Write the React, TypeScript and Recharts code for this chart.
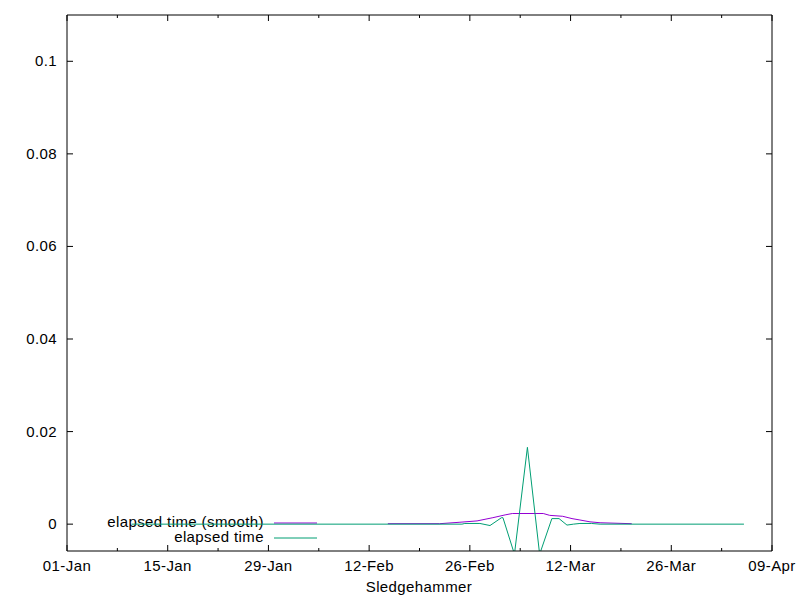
import { LineChart, Line, XAxis, YAxis, Customized } from "recharts";

// day offsets from 01-Jan and values
const rawDays = [9.0, 54.9, 55.3, 57.4, 58.8, 60.4, 60.6, 62.2, 64.0, 65.7, 67.4, 68.4, 69.5, 70.4, 71.3, 72.9, 74.1, 94.1];
const rawValues = [0, 0, 0.00015, 0.00015, -0.0003, 0.0014, 0.0014, -0.0065, 0.0166, -0.0065, 0.0012, 0.0012, -0.0002, 0, 0.00015, 0.00015, 0, 0];

const smoothDays = [44.6, 51.8, 54.5, 57.0, 59.2, 60.9, 61.9, 66.2, 67.1, 68.9, 70.2, 71.3, 72.7, 74.1, 78.5];
const smoothValues = [0.0001, 0.0001, 0.0004, 0.0007, 0.0014, 0.002, 0.0023, 0.0023, 0.0019, 0.0017, 0.0012, 0.0009, 0.0005, 0.0003, 0.0001];

const xTicks = [0, 7, 14, 21, 28, 35, 42, 49, 56, 63, 70, 77, 84, 91, 98];
const xTickLabels = ["01-Jan", "15-Jan", "29-Jan", "12-Feb", "26-Feb", "12-Mar", "26-Mar", "09-Apr"];
const yTicks = [0, 0.02, 0.04, 0.06, 0.08, 0.1];
const yTickLabels = ["0", "0.02", "0.04", "0.06", "0.08", "0.1"];

const rawData = rawDays.map((d, i) => ({ day: d, value: rawValues[i] }));
const smoothData = smoothDays.map((d, i) => ({ day: d, value: smoothValues[i] }));

const FONT = "'Liberation Sans', Arial, sans-serif";
const PURPLE = "#9400d3";
const GREEN = "#009e73";

function BottomTick(props: any) {
    const { x, y, payload } = props;
    const major = payload.value % 14 === 0;
    return (
        <g>
            <line x1={x} x2={x} y1={y} y2={y - (major ? 6 : 3)} stroke="#000" />
            {major && (
                <text x={x} y={y + 20} textAnchor="middle" fontSize={15} letterSpacing={0.4} fontFamily={FONT} fill="#000">
                    {xTickLabels[payload.value / 14]}
                </text>
            )}
        </g>
    );
}

function TopTick(props: any) {
    const { x, y, payload } = props;
    const major = payload.value % 14 === 0;
    return <line x1={x} x2={x} y1={y} y2={y + (major ? 6 : 3)} stroke="#000" />;
}

function LeftTick(props: any) {
    const { x, y, index } = props;
    return (
        <g>
            <line x1={x} x2={x + 6} y1={y} y2={y} stroke="#000" />
            <text x={x - 10} y={y + 5} textAnchor="end" fontSize={15} letterSpacing={0.4} fontFamily={FONT} fill="#000">
                {yTickLabels[index]}
            </text>
        </g>
    );
}

function RightTick(props: any) {
    const { x, y } = props;
    return <line x1={x} x2={x - 6} y1={y} y2={y} stroke="#000" />;
}

function Key() {
    return (
        <g fontFamily={FONT} fontSize={15} letterSpacing={0.4} fill="#000">
            <text x={264} y={527} textAnchor="end">elapsed time (smooth)</text>
            <line x1={274} x2={317} y1={523} y2={523} stroke={PURPLE} />
            <text x={264} y={542} textAnchor="end">elapsed time</text>
            <line x1={274} x2={317} y1={538} y2={538} stroke={GREEN} />
            <text x={419} y={592} textAnchor="middle">Sledgehammer</text>
        </g>
    );
}

export default function App() {
    return (
        <div style={{ position: "absolute", left: 0, top: 0, background: "#fff" }}>
            <LineChart width={800} height={600} margin={{ top: 14, right: 27, bottom: 48, left: 66 }}>
                <Customized component={<Key />} />
                <XAxis
                    xAxisId="bottom"
                    dataKey="day"
                    type="number"
                    domain={[0, 98]}
                    ticks={xTicks}
                    interval={0}
                    height={1}
                    tickSize={0}
                    tickMargin={0}
                    tickLine={false}
                    tick={<BottomTick />}
                    axisLine={{ stroke: "#000" }}
                    allowDataOverflow
                />
                <XAxis
                    xAxisId="top"
                    orientation="top"
                    dataKey="day"
                    type="number"
                    domain={[0, 98]}
                    ticks={xTicks}
                    interval={0}
                    height={1}
                    tickSize={0}
                    tickMargin={0}
                    tickLine={false}
                    tick={<TopTick />}
                    axisLine={{ stroke: "#000" }}
                    allowDataOverflow
                />
                <YAxis
                    yAxisId="left"
                    type="number"
                    domain={[-0.0058, 0.11]}
                    ticks={yTicks}
                    interval={0}
                    width={1}
                    tickSize={0}
                    tickMargin={0}
                    tickLine={false}
                    tick={<LeftTick />}
                    axisLine={{ stroke: "#000" }}
                    allowDataOverflow
                />
                <YAxis
                    yAxisId="right"
                    orientation="right"
                    type="number"
                    domain={[-0.0058, 0.11]}
                    ticks={yTicks}
                    interval={0}
                    width={1}
                    tickSize={0}
                    tickMargin={0}
                    tickLine={false}
                    tick={<RightTick />}
                    axisLine={{ stroke: "#000" }}
                    allowDataOverflow
                />
                <Line
                    xAxisId="bottom"
                    yAxisId="left"
                    data={smoothData}
                    dataKey="value"
                    type="linear"
                    stroke={PURPLE}
                    strokeWidth={1}
                    dot={false}
                    isAnimationActive={false}
                />
                <Line
                    xAxisId="bottom"
                    yAxisId="left"
                    data={rawData}
                    dataKey="value"
                    type="linear"
                    stroke={GREEN}
                    strokeWidth={1}
                    dot={false}
                    isAnimationActive={false}
                />
            </LineChart>
        </div>
    );
}
